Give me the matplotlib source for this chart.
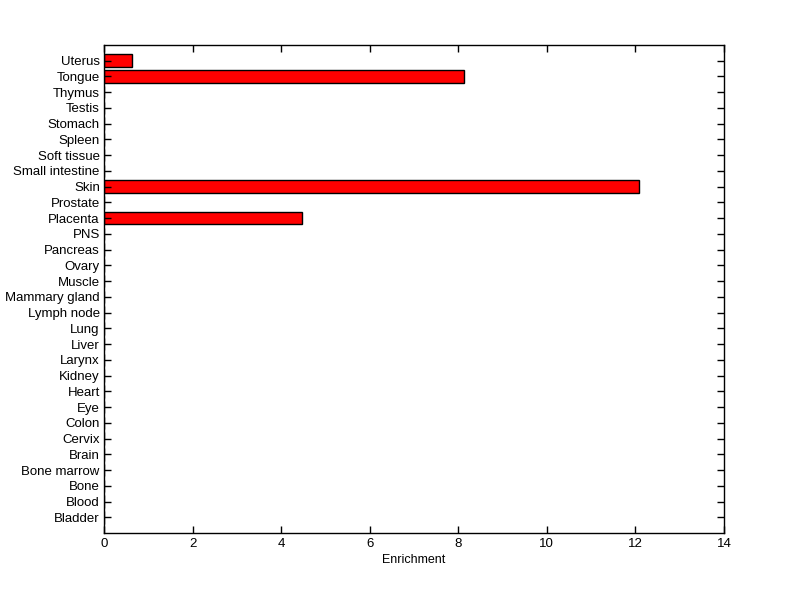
import matplotlib
matplotlib.use("Agg")
import matplotlib.pyplot as plt

plt.rcParams['font.family'] = ['Liberation Sans', 'DejaVu Sans']

# 아래에서 위로
tissues = ["Bladder", "Blood", "Bone", "Bone marrow", "Brain", "Cervix", "Colon",
           "Eye", "Heart", "Kidney", "Larynx", "Liver", "Lung", "Lymph node",
           "Mammary gland", "Muscle", "Ovary", "Pancreas", "PNS", "Placenta",
           "Prostate", "Skin", "Small intestine", "Soft tissue", "Spleen",
           "Stomach", "Testis", "Thymus", "Tongue", "Uterus"]
enrichment = [0, 0, 0, 0, 0, 0, 0,
              0, 0, 0, 0, 0, 0, 0,
              0, 0, 0, 0, 0, 4.46,
              0, 12.07, 0, 0, 0,
              0, 0, 0, 8.12, 0.63]
x_ticks = [0, 2, 4, 6, 8, 10, 12, 14]

fig = plt.figure(figsize=(8, 5.99), dpi=100)
ax = fig.add_axes([0.13, 0.11, 0.775, 0.815])

pos = list(range(1, len(tissues) + 1))
ax.barh(pos, enrichment, height=0.8, color="red", edgecolor="black", linewidth=1)

ax.set_xlim(0, 14)
ax.set_ylim(0, len(tissues) + 1)
ax.set_xticks(x_ticks)
ax.set_yticks(pos)
ax.set_yticklabels(tissues)
ax.set_xlabel("Enrichment", fontsize=9, labelpad=3)
ax.tick_params(direction="in", length=5, width=1, labelsize=9.5,
               top=True, right=True)
ax.tick_params(axis="y", pad=3)
for s in ax.spines.values():
    s.set_linewidth(1)

fig.savefig("out.png", dpi=100)
